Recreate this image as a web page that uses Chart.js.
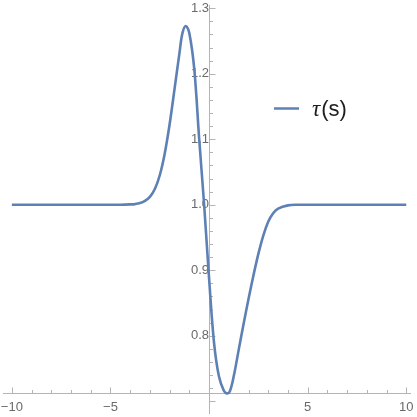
<!DOCTYPE html>
<html>
<head>
<meta charset="utf-8">
<script src="https://cdn.jsdelivr.net/npm/chart.js@4"></script>
<style>
  html, body { margin: 0; padding: 0; background: #fff; }
  #wrap { width: 417px; height: 417px; }
</style>
</head>
<body>
<div id="wrap"><canvas id="tau"></canvas></div>
<script>
// values
const sValues = [-10, -8, -6, -5, -4.5, -4, -3.75, -3.5, -3.25, -3,
  -2.75, -2.5, -2.25, -2, -1.75, -1.5, -1.35, -1.18, -1, -0.75,
  -0.5, -0.25, 0, 0.25, 0.5, 0.75, 0.9, 1.05, 1.25, 1.5,
  1.75, 2, 2.25, 2.5, 2.75, 3, 3.25, 3.5, 4, 4.5,
  5, 6, 8, 10];
const tauValues = [1, 1, 1, 1, 1, 1.0005, 1.001, 1.0025, 1.006, 1.012,
  1.024, 1.045, 1.078, 1.123, 1.177, 1.232, 1.262, 1.273, 1.262, 1.207,
  1.10, 1.0, 0.888, 0.79, 0.738, 0.716, 0.712, 0.715, 0.738, 0.778,
  0.818, 0.856, 0.892, 0.925, 0.953, 0.974, 0.987, 0.994, 0.999, 1,
  1, 1, 1, 1];
const xTicks = [-10, -5, 5, 10];
const yTicks = [0.8, 0.9, 1.0, 1.1, 1.2, 1.3];
const seriesName = 'τ(s)';

const lineColor = '#5e81b5';
const axisColor = '#b4b4b4';
const labelColor = '#6a6a6a';

// mathematica style ticks: pointing inwards, minor + major
const tickMarks = {
  id: 'tickMarks',
  beforeDatasetsDraw(chart) {
    const ctx = chart.ctx;
    const xs = chart.scales.x, ys = chart.scales.y;
    const ax = Math.round(xs.getPixelForValue(0)) + 0.5;
    const ay = Math.round(ys.getPixelForValue(0.712)) + 0.5;
    ctx.save();
    ctx.strokeStyle = axisColor;
    ctx.lineWidth = 1;
    ctx.beginPath();
    for (let i = -10; i <= 10; i++) {
      const px = Math.round(xs.getPixelForValue(i)) + 0.5;
      const len = i % 5 === 0 ? 6 : 3.5;
      ctx.moveTo(px, ay);
      ctx.lineTo(px, ay - len);
    }
    for (let k = 35; k <= 65; k++) {
      const py = Math.round(ys.getPixelForValue(k * 0.02)) + 0.5;
      const len = k % 5 === 0 ? 6 : 3.5;
      ctx.moveTo(ax, py);
      ctx.lineTo(ax + len, py);
    }
    ctx.stroke();
    ctx.restore();
  }
};

const sideLegend = {
  id: 'sideLegend',
  afterDraw(chart) {
    const ctx = chart.ctx;
    const ds = chart.data.datasets[0];
    ctx.save();
    ctx.strokeStyle = ds.borderColor;
    ctx.lineWidth = 2.5;
    ctx.beginPath();
    ctx.moveTo(274, 108.5);
    ctx.lineTo(299, 108.5);
    ctx.stroke();
    ctx.fillStyle = '#1e1e1e';
    ctx.textBaseline = 'alphabetic';
    ctx.font = 'italic 23px "Liberation Serif"';
    ctx.fillText(ds.label.charAt(0), 312, 116);
    const w = ctx.measureText(ds.label.charAt(0)).width;
    ctx.font = '22px "Liberation Sans"';
    ctx.fillText(ds.label.slice(1), 313 + w, 116);
    ctx.restore();
  }
};

// keep the crossing axes from reserving room for their labels
const noPadX = (scale) => { scale.paddingLeft = 0; scale.paddingRight = 0; };
const noPadY = (scale) => { scale.paddingTop = 0; scale.paddingBottom = 0; };

new Chart(document.getElementById('tau'), {
  type: 'scatter',
  data: {
    datasets: [{
      label: seriesName,
      data: sValues.map((s, i) => ({ x: s, y: tauValues[i] })),
      showLine: true,
      borderColor: lineColor,
      borderWidth: 2.6,
      pointRadius: 0,
      tension: 0.35
    }]
  },
  options: {
    responsive: true,
    maintainAspectRatio: false,
    animation: false,
    layout: { padding: { left: 3, right: 7, top: 5, bottom: 4 } },
    plugins: {
      legend: { display: false },
      tooltip: { enabled: false }
    },
    scales: {
      x: {
        type: 'linear',
        min: -10.45,
        max: 10.19,
        position: { y: 0.712 },
        grid: { display: false, drawTicks: false },
        border: { display: true, color: axisColor, width: 1 },
        afterBuildTicks: (scale) => { scale.ticks = xTicks.map(v => ({ value: v })); },
        afterFit: noPadX,
        ticks: {
          padding: 6,
          color: labelColor,
          font: { family: 'Liberation Sans', size: 13 },
          maxRotation: 0,
          callback: (v) => (v < 0 ? '\u2212' + Math.abs(v) : String(v))
        }
      },
      y: {
        type: 'linear',
        min: 0.682,
        max: 1.305,
        position: { x: 0 },
        grid: { display: false, drawTicks: false },
        border: { display: true, color: axisColor, width: 1 },
        afterBuildTicks: (scale) => { scale.ticks = yTicks.map(v => ({ value: v })); },
        afterFit: noPadY,
        ticks: {
          padding: 5,
          color: labelColor,
          font: { family: 'Liberation Sans', size: 13 },
          callback: (v) => Number(v).toFixed(1)
        }
      }
    }
  },
  plugins: [tickMarks, sideLegend]
});
</script>
</body>
</html>
